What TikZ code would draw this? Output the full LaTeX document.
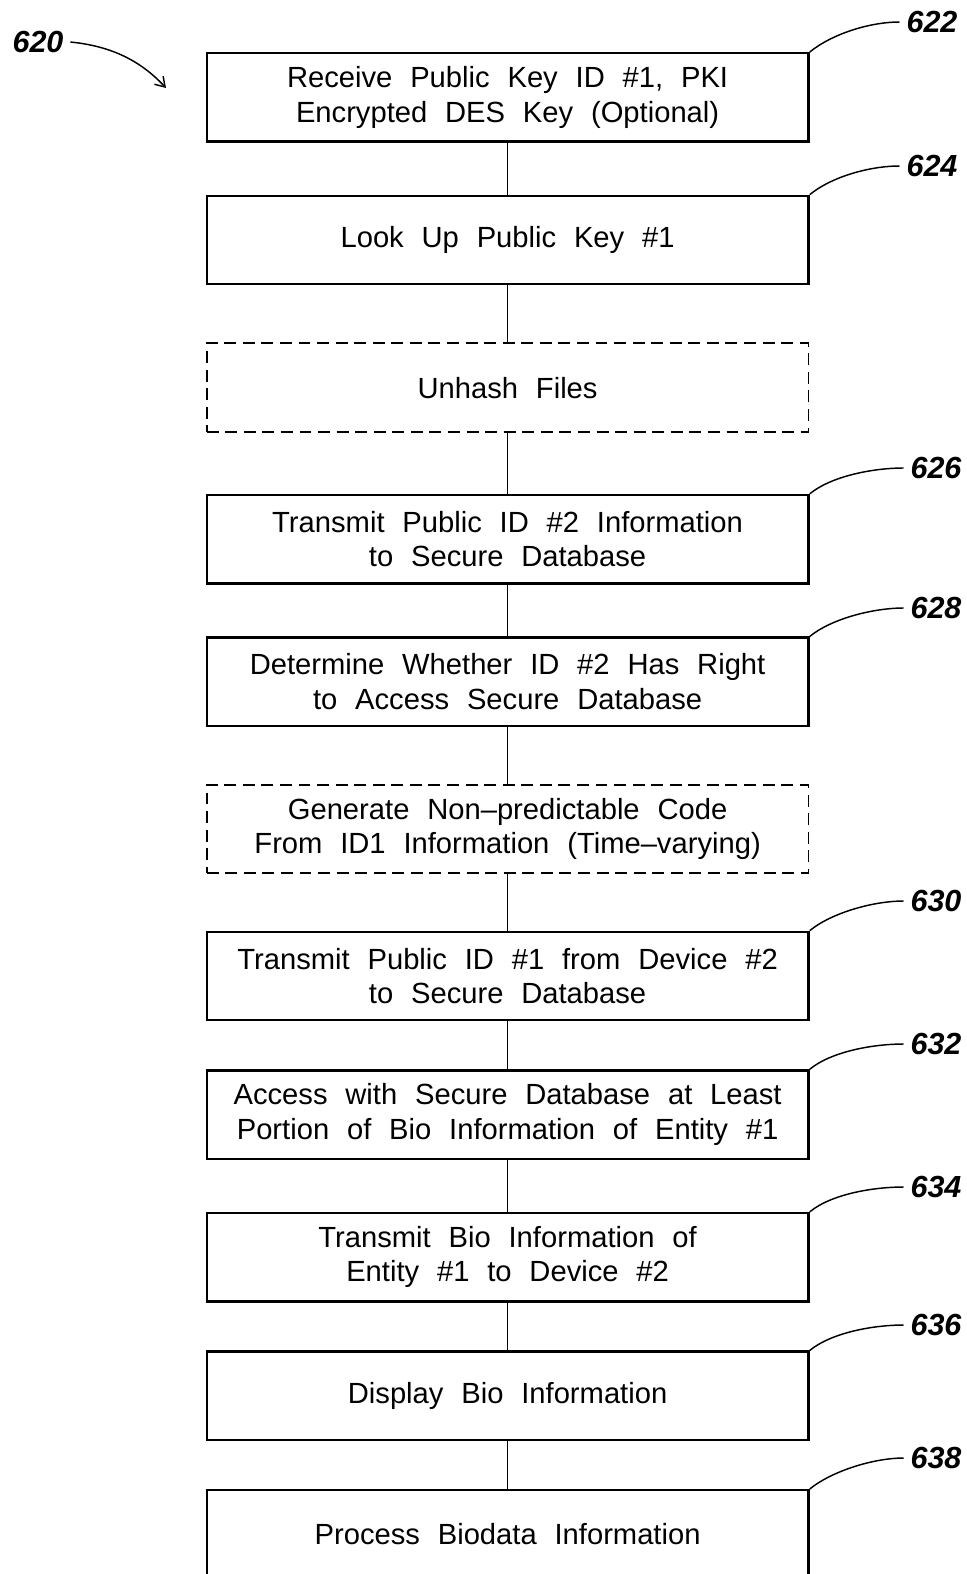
\documentclass[tikz,border=0pt]{standalone}
\usepackage{fontspec}
\setmainfont[WordSpace=2.2]{Liberation Sans}
\usetikzlibrary{arrows.meta}

\begin{document}
\begin{tikzpicture}[x=0.0265cm, y=-0.0265cm,
  stepbox/.style={draw, line width=1.8pt, minimum width=15.95cm, minimum height=2.34cm,
    align=center, font=\fontsize{22}{26}\selectfont},
  optbox/.style={stepbox, line width=1.5pt, dash pattern=on 9pt off 5pt},
  reflabel/.style={font=\fontsize{23}{26}\selectfont\bfseries\itshape, inner sep=5pt},
  leader/.style={line width=1.1pt},
  link/.style={line width=1.3pt}]
\clip (0,0) rectangle (966,1574);

\node[reflabel] (l620) at (38,42){620};
\coordinate (a620) at (166,88);
\draw[leader, -{Straight Barb[length=7pt,width=9pt]}] (l620.east) .. controls +(40,4) and +(-26,-28) .. (a620);

\node[stepbox] (s622) at (507.6,97.4){Receive Public Key ID \#1, PKI\\Encrypted DES Key (Optional)};
\node[stepbox] (s624) at (507.6,240.0){Look Up Public Key \#1};
\node[optbox] (unhash) at (507.6,387.6){Unhash Files};
\node[stepbox] (s626) at (507.6,539.2){Transmit Public ID \#2 Information\\to Secure Database};
\node[stepbox] (s628) at (507.6,681.8){Determine Whether ID \#2 Has Right\\to Access Secure Database};
\node[optbox] (gencode) at (507.6,829.0){Generate Non--predictable Code\\From ID1 Information (Time--varying)};
\node[stepbox] (s630) at (507.6,976.0){Transmit Public ID \#1 from Device \#2\\to Secure Database};
\node[stepbox] (s632) at (507.6,1114.6){Access with Secure Database at Least\\Portion of Bio Information of Entity \#1};
\node[stepbox] (s634) at (507.6,1257.2){Transmit Bio Information of\\Entity \#1 to Device \#2};
\node[stepbox] (s636) at (507.6,1395.8){Display Bio Information};
\node[stepbox] (s638) at (507.6,1534.4){Process Biodata Information};

\draw[link] (s622)--(s624);
\draw[link] (s624)--(unhash);
\draw[link] (unhash)--(s626);
\draw[link] (s626)--(s628);
\draw[link] (s628)--(gencode);
\draw[link] (gencode)--(s630);
\draw[link] (s630)--(s632);
\draw[link] (s632)--(s634);
\draw[link] (s634)--(s636);
\draw[link] (s636)--(s638);

\node[reflabel] (l622) at (932,22){622};
\node[reflabel] (l624) at (932,166){624};
\node[reflabel] (l626) at (936,468){626};
\node[reflabel] (l628) at (936,608){628};
\node[reflabel] (l630) at (936,901){630};
\node[reflabel] (l632) at (936,1044){632};
\node[reflabel] (l634) at (936,1187){634};
\node[reflabel] (l636) at (936,1325){636};
\node[reflabel] (l638) at (936,1458){638};

\draw[leader] (s622.north east) .. controls +(22,-18) and +(-30,0) .. (l622.west);
\draw[leader] (s624.north east) .. controls +(22,-18) and +(-30,0) .. (l624.west);
\draw[leader] (s626.north east) .. controls +(22,-18) and +(-30,0) .. (l626.west);
\draw[leader] (s628.north east) .. controls +(22,-18) and +(-30,0) .. (l628.west);
\draw[leader] (s630.north east) .. controls +(22,-18) and +(-30,0) .. (l630.west);
\draw[leader] (s632.north east) .. controls +(22,-18) and +(-30,0) .. (l632.west);
\draw[leader] (s634.north east) .. controls +(22,-18) and +(-30,0) .. (l634.west);
\draw[leader] (s636.north east) .. controls +(22,-18) and +(-30,0) .. (l636.west);
\draw[leader] (s638.north east) .. controls +(22,-18) and +(-30,0) .. (l638.west);
\end{tikzpicture}
\end{document}
